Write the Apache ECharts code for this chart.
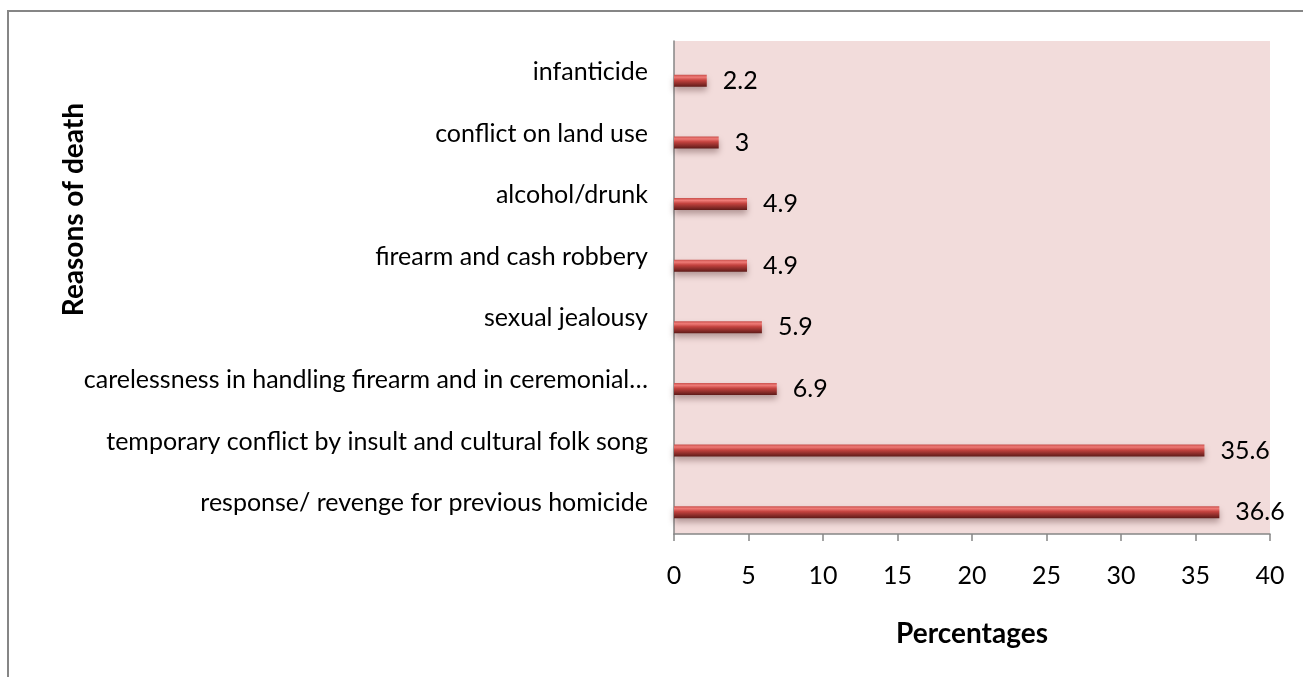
<!DOCTYPE html>
<html>
<head>
<meta charset="utf-8">
<script src="https://cdn.jsdelivr.net/npm/echarts@6/dist/echarts.min.js"></script>
<style>
  html, body { margin: 0; padding: 0; background: #ffffff; }
  #chart { width: 1303px; height: 677px; }
</style>
</head>
<body>
<div id="chart"></div>
<script>
// Reasons of death, listed bottom-to-top as they stack on the category axis
const reasons = [
  'response/ revenge for previous homicide',
  'temporary conflict by insult and cultural folk song',
  'carelessness in handling firearm and in ceremonial…',
  'sexual jealousy',
  'firearm and cash robbery',
  'alcohol/drunk',
  'conflict on land use',
  'infanticide'
];
const percentages = [36.6, 35.6, 6.9, 5.9, 4.9, 4.9, 3, 2.2];
const xTicks = [0, 5, 10, 15, 20, 25, 30, 35, 40];

const FONT = 'Lato, "Open Sans", "Liberation Sans", sans-serif';
const AXIS_GREY = '#868686';

const chart = echarts.init(document.getElementById('chart'), null, { renderer: 'canvas' });

const plotLeft = 674, plotTop = 41, plotWidth = 596, plotHeight = 493;

// Cylinder-like shading for each bar
const barFill = new echarts.graphic.LinearGradient(0, 0, 0, 1, [
  { offset: 0, color: '#c9504c' },
  { offset: 0.2, color: '#ef7b77' },
  { offset: 0.45, color: '#c4433f' },
  { offset: 0.75, color: '#8c2d2a' },
  { offset: 1, color: '#5e1a18' }
]);

chart.setOption({
  animation: false,
  grid: [
    {
      left: plotLeft, top: plotTop, width: plotWidth, height: plotHeight,
      show: true, backgroundColor: '#f2dcdb', borderWidth: 0
    },
    {
      // bars sit slightly below their category centre (depth offset)
      left: plotLeft, top: plotTop + 9, width: plotWidth, height: plotHeight,
      show: false
    }
  ],
  xAxis: [
    {
      gridIndex: 0, type: 'value', min: xTicks[0], max: xTicks[xTicks.length - 1], interval: 5,
      axisLine: { show: true, lineStyle: { color: AXIS_GREY, width: 1.5 } },
      axisTick: { show: true, length: 7, lineStyle: { color: AXIS_GREY, width: 1.5 } },
      splitLine: { show: false },
      axisLabel: { color: '#000', fontFamily: FONT, fontSize: 25, margin: 29 },
      name: 'Percentages', nameLocation: 'middle', nameGap: 86,
      nameTextStyle: { color: '#000', fontFamily: FONT, fontSize: 28, fontWeight: 'bold' }
    },
    {
      gridIndex: 1, type: 'value', min: xTicks[0], max: xTicks[xTicks.length - 1], show: false
    }
  ],
  yAxis: [
    {
      gridIndex: 0, type: 'category', data: reasons,
      axisLine: { show: true, lineStyle: { color: AXIS_GREY, width: 1.5 } },
      axisTick: { show: false },
      axisLabel: { color: '#000', fontFamily: FONT, fontSize: 25, margin: 26 },
      splitLine: { show: false }
    },
    {
      gridIndex: 1, type: 'category', data: reasons, show: false
    }
  ],
  graphic: [
    {
      type: 'rect', silent: true, z: -10,
      shape: { x: 8, y: 11, width: 1400, height: 800 },
      style: { fill: 'none', stroke: AXIS_GREY, lineWidth: 2 }
    },
    {
      type: 'text', left: 60, top: 103, rotation: Math.PI / 2, silent: true,
      style: {
        text: 'Reasons of death', fill: '#000',
        font: 'bold 28px ' + FONT
      }
    }
  ],
  series: [
    {
      type: 'bar', xAxisIndex: 1, yAxisIndex: 1,
      data: percentages, barWidth: 12,
      itemStyle: {
        color: barFill,
        shadowColor: 'rgba(60,20,20,0.35)', shadowBlur: 6, shadowOffsetY: 4
      },
      label: {
        show: true, position: 'right', distance: 16,
        color: '#000', fontFamily: FONT, fontSize: 25
      }
    }
  ]
});
</script>
</body>
</html>
